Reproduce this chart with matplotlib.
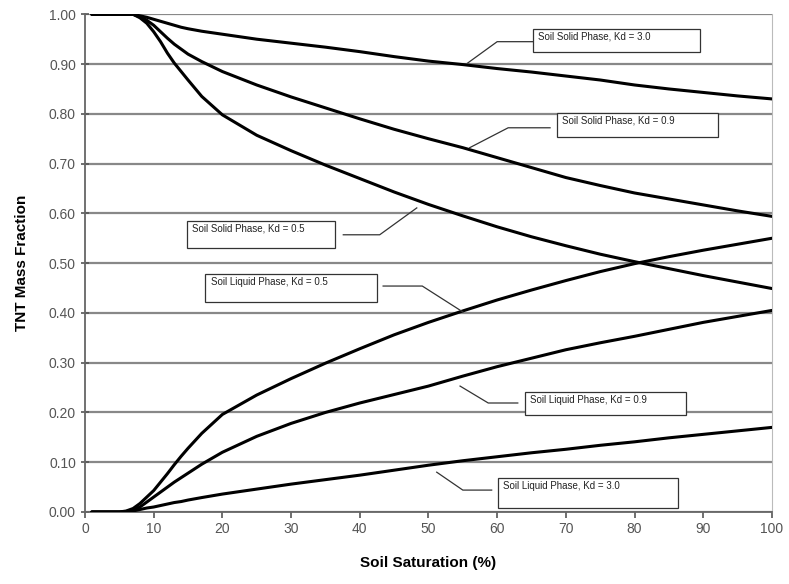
import matplotlib.pyplot as plt
from matplotlib.patches import Rectangle

plt.rcParams['font.family'] = ['Liberation Sans', 'DejaVu Sans']

# saturacion del suelo (%)
saturation = [1, 3, 5, 6, 7, 8, 9, 10, 11, 12, 13, 14, 15, 17, 20, 25, 30,
              35, 40, 45, 50, 55, 60, 65, 70, 75, 80, 85, 90, 95, 100]

# fraccion masica en fase solida
solid_kd30 = [1.0, 1.0, 1.0, 1.0, 1.0, 0.997, 0.994, 0.99, 0.986, 0.982, 0.978,
              0.974, 0.971, 0.966, 0.96, 0.95, 0.942, 0.934, 0.925, 0.915,
              0.906, 0.899, 0.891, 0.884, 0.876, 0.868, 0.858, 0.850, 0.843,
              0.836, 0.830]
solid_kd09 = [1.0, 1.0, 1.0, 1.0, 1.0, 0.995, 0.988, 0.978, 0.965, 0.952, 0.94,
              0.93, 0.92, 0.905, 0.885, 0.858, 0.834, 0.812, 0.79, 0.769, 0.75,
              0.732, 0.712, 0.692, 0.672, 0.656, 0.641, 0.629, 0.617, 0.605,
              0.594]
solid_kd05 = [1.0, 1.0, 1.0, 1.0, 1.0, 0.993, 0.982, 0.965, 0.945, 0.922, 0.902,
              0.885, 0.868, 0.835, 0.798, 0.757, 0.726, 0.697, 0.67, 0.643,
              0.618, 0.595, 0.573, 0.553, 0.535, 0.518, 0.503, 0.489, 0.475,
              0.462, 0.449]

# fraccion masica en fase liquida
liquid_kd05 = [0.0, 0.0, 0.0, 0.002, 0.007, 0.017, 0.03, 0.043, 0.06, 0.077,
               0.095, 0.112, 0.128, 0.158, 0.196, 0.235, 0.268, 0.299, 0.328,
               0.356, 0.381, 0.404, 0.426, 0.446, 0.465, 0.483, 0.499, 0.513,
               0.526, 0.538, 0.55]
liquid_kd09 = [0.0, 0.0, 0.0, 0.001, 0.004, 0.01, 0.02, 0.03, 0.04, 0.05, 0.06,
               0.069, 0.078, 0.096, 0.12, 0.152, 0.178, 0.2, 0.219, 0.236,
               0.253, 0.273, 0.292, 0.309, 0.326, 0.34, 0.353, 0.367, 0.381,
               0.393, 0.405]
liquid_kd30 = [0.0, 0.0, 0.0, 0.0, 0.002, 0.005, 0.008, 0.01, 0.013, 0.016,
               0.019, 0.021, 0.024, 0.029, 0.036, 0.046, 0.056, 0.065, 0.074,
               0.084, 0.094, 0.103, 0.111, 0.119, 0.126, 0.134, 0.141, 0.149,
               0.156, 0.163, 0.17]

labels = ['Soil Solid Phase, Kd = 3.0', 'Soil Solid Phase, Kd = 0.9',
          'Soil Solid Phase, Kd = 0.5', 'Soil Liquid Phase, Kd = 0.5',
          'Soil Liquid Phase, Kd = 0.9', 'Soil Liquid Phase, Kd = 3.0']

# cajas de etiqueta (x0, x1, y_arriba, y_abajo) y linea guia (x_caja, x_codo, y, x_fin, y_fin)
boxes = [(65.2, 89.5, 0.971, 0.925), (68.7, 92.1, 0.802, 0.754),
         (14.8, 36.4, 0.585, 0.531), (17.5, 42.5, 0.478, 0.422),
         (64.0, 87.5, 0.241, 0.195), (60.1, 86.3, 0.068, 0.008)]
leaders = [(65.2, 60.0, 0.945, 55.7, 0.902), (67.7, 61.6, 0.772, 56.0, 0.732),
           (37.6, 42.9, 0.557, 48.3, 0.611), (43.4, 49.1, 0.454, 55.0, 0.402),
           (63.0, 58.7, 0.219, 54.6, 0.253), (59.2, 55.0, 0.044, 51.2, 0.080)]

fig = plt.figure(figsize=(7.89, 5.84), dpi=100)
ax = fig.add_axes([0.1077, 0.1233, 0.8707, 0.8522])

for serie in [solid_kd30, solid_kd09, solid_kd05, liquid_kd05, liquid_kd09, liquid_kd30]:
    ax.plot(saturation, serie, color='black', linewidth=2.2, zorder=3,
            solid_joinstyle='round', solid_capstyle='round')

for (x0, x1, yt, yb), lab in zip(boxes, labels):
    ax.add_patch(Rectangle((x0, yb), x1 - x0, yt - yb, facecolor='white',
                           edgecolor='#333333', linewidth=0.9, zorder=4))
    ax.text(x0 + 0.8, yt - 0.006, lab, fontsize=7, color='#222222',
            va='top', ha='left', zorder=5)

for xb, xc, yb, xe, ye in leaders:
    ax.plot([xb, xc, xe], [yb, yb, ye], color='#333333', linewidth=0.9, zorder=4)

ax.set_xlim(0, 100)
ax.set_ylim(0, 1.0)
ax.set_xticks(range(0, 101, 10))
ax.set_yticks([i / 10 for i in range(11)])
ax.set_yticklabels(['%.2f' % (i / 10) for i in range(11)])
ax.yaxis.grid(True, color='#888888', linewidth=1.6)
ax.set_axisbelow(True)
ax.tick_params(colors='#555555', labelsize=10, length=4, width=1.2)
ax.tick_params(axis='y', direction='inout', length=6)
for s in ['left', 'bottom']:
    ax.spines[s].set_color('#666666')
    ax.spines[s].set_linewidth(1.3)
ax.spines['right'].set_color('#bbbbbb')
ax.spines['top'].set_visible(False)

ax.set_xlabel('Soil Saturation (%)', fontsize=11, fontweight='bold', labelpad=14)
ax.set_ylabel('TNT Mass Fraction', fontsize=11, fontweight='bold', labelpad=14)

plt.savefig('out.png', dpi=100)
